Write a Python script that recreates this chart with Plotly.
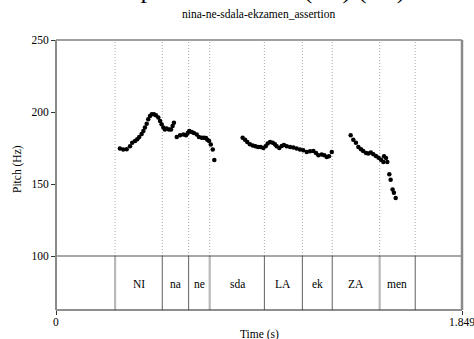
import plotly.graph_objects as go

# ---- data ----
t_pitch = [0.291, 0.306, 0.322, 0.337, 0.347, 0.360, 0.370, 0.379, 0.390, 0.398,
           0.405, 0.413, 0.420, 0.428, 0.436, 0.446, 0.455, 0.466, 0.474, 0.481,
           0.489, 0.496, 0.504, 0.515, 0.524, 0.531, 0.537,
           0.550, 0.565, 0.580, 0.592, 0.600, 0.607, 0.618, 0.628, 0.641, 0.651,
           0.664, 0.674, 0.683, 0.689, 0.697, 0.705, 0.714, 0.721,
           0.850, 0.861, 0.871, 0.883, 0.896, 0.908, 0.920, 0.932, 0.944, 0.955,
           0.964, 0.975, 0.987, 0.997, 1.005, 1.017, 1.028, 1.038, 1.051, 1.066,
           1.081, 1.096, 1.111, 1.126, 1.142, 1.157, 1.172, 1.184, 1.195, 1.210,
           1.222, 1.233, 1.243, 1.256,
           1.342, 1.354, 1.366, 1.377, 1.389, 1.399, 1.412, 1.422, 1.434, 1.445,
           1.457, 1.469, 1.480, 1.491, 1.494, 1.503, 1.509, 1.518, 1.524, 1.533,
           1.539, 1.547]
f0_hz = [174.6, 173.9, 174.1, 176.2, 178.7, 179.9, 181.0, 182.6, 184.7, 186.8,
         189.2, 191.9, 194.9, 197.2, 198.4, 198.4, 197.7, 196.1, 193.8, 191.5,
         189.2, 187.8, 188.5, 187.8, 187.8, 190.3, 192.6,
         182.6, 183.8, 184.3, 183.8, 185.4, 186.8, 186.1, 185.4, 184.3, 182.6,
         182.2, 182.2, 181.9, 180.8, 179.9, 177.4, 173.9, 166.7,
         182.2, 180.8, 179.2, 177.6, 176.7, 176.2, 175.7, 175.7, 175.0, 176.2,
         178.1, 179.2, 178.7, 177.6, 176.2, 175.0, 176.4, 177.1, 176.2, 175.7,
         175.3, 174.6, 173.9, 173.4, 172.2, 172.7, 172.9, 171.5, 169.9, 170.4,
         169.9, 168.8, 169.2, 172.2,
         183.8, 180.8, 178.7, 175.7, 174.1, 172.9, 171.5, 171.1, 171.8, 170.6,
         169.4, 168.3, 166.9, 165.3, 169.2, 168.0, 165.3, 156.7, 153.0, 146.1,
         144.0, 140.3]

boundaries = [0.269, 0.484, 0.604, 0.700, 0.949, 1.122, 1.258, 1.474, 1.636]
word_boundaries = [0.269, 0.700, 1.474]
syllables = ["", "NI", "na", "ne", "sda", "LA", "ek", "ZA", "men", ""]

t_min, t_max = 0.0, 1.849
y_ticks = [100, 150, 200, 250]
x_tick_text = ["0", "1.849"]
title_text = "Speech contours (Hz) (Hz)"
subtitle_text = "nina-ne-sdala-ekzamen_assertion"

# ---- figure ----
FONT = "Liberation Serif, serif"
y_floor, y_tier, y_top = 62.5, 100, 250
label_y = 80.5

fig = go.Figure()
fig.add_trace(go.Scatter(x=t_pitch, y=f0_hz, mode="markers",
                         marker=dict(color="black", size=4.5, line=dict(width=0)),
                         hoverinfo="skip", showlegend=False))

shapes = []
edges = [t_min] + boundaries + [t_max]
for b in boundaries:
    shapes.append(dict(type="line", xref="x", yref="y", x0=b, x1=b, y0=y_tier, y1=y_top,
                       line=dict(color="#a8a8a8", width=1, dash="1px,2px"), layer="below"))
    if b in word_boundaries:
        shapes.append(dict(type="line", xref="x", yref="y", x0=b, x1=b, y0=y_floor, y1=y_tier,
                           line=dict(color="#b8b8b8", width=2.2)))
    else:
        shapes.append(dict(type="line", xref="x", yref="y", x0=b, x1=b, y0=y_floor, y1=y_tier,
                           line=dict(color="#606060", width=1)))
# tier top line
shapes.append(dict(type="line", xref="paper", yref="y", x0=0, x1=1, y0=y_tier, y1=y_tier,
                   line=dict(color="#505050", width=1)))
# frame
shapes.append(dict(type="line", xref="paper", yref="paper", x0=0, x1=1, y0=1, y1=1,
                   line=dict(color="#404040", width=1)))
shapes.append(dict(type="line", xref="paper", yref="paper", x0=0, x1=1, y0=0, y1=0,
                   line=dict(color="#202020", width=1.2)))
shapes.append(dict(type="line", xref="paper", yref="paper", x0=0, x1=0, y0=0, y1=1,
                   line=dict(color="#8a8a8a", width=2)))
shapes.append(dict(type="line", xref="paper", yref="paper", x0=1, x1=1, y0=0, y1=1,
                   line=dict(color="#8a8a8a", width=2.5)))

annotations = []
for i, lab in enumerate(syllables):
    if lab:
        annotations.append(dict(x=(edges[i] + edges[i + 1]) / 2, y=label_y, xref="x", yref="y",
                                text=lab, showarrow=False,
                                font=dict(family=FONT, size=11.5, color="black")))
# x tick labels as annotations so the right one is not clipped
for tv, tt in zip([t_min, t_max], x_tick_text):
    annotations.append(dict(x=tv, y=0, xref="x", yref="paper", xanchor="center",
                            yanchor="top", yshift=-4, text=tt, showarrow=False,
                            font=dict(family=FONT, size=11.5, color="black")))
annotations.append(dict(x=0.1675, y=1, xref="paper", yref="paper", xanchor="left",
                        yanchor="bottom", yshift=34, text=title_text, showarrow=False,
                        font=dict(family=FONT, size=26, color="black")))
annotations.append(dict(x=0.499, y=1, xref="paper", yref="paper", xanchor="center",
                        yanchor="bottom", yshift=18, text=subtitle_text, showarrow=False,
                        font=dict(family=FONT, size=11.5, color="black")))
annotations.append(dict(x=0, y=0.5, xref="paper", yref="paper", xanchor="center",
                        yanchor="middle", xshift=-39, yshift=6, textangle=-90,
                        text="Pitch (Hz)", showarrow=False,
                        font=dict(family=FONT, size=11.5, color="black")))
annotations.append(dict(x=0.5, y=0, xref="paper", yref="paper", xanchor="center",
                        yanchor="top", yshift=-16, text="Time (s)", showarrow=False,
                        font=dict(family=FONT, size=11.5, color="black")))

fig.update_layout(
    width=474, height=339,
    margin=dict(l=56, r=12, t=40, b=29, pad=0),
    plot_bgcolor="white", paper_bgcolor="white",
    shapes=shapes, annotations=annotations,
    font=dict(family=FONT, size=11.5, color="black"),
    xaxis=dict(range=[t_min, t_max], tickvals=[t_min, t_max], showticklabels=False,
               ticks="outside", ticklen=4, tickcolor="#333", showgrid=False,
               zeroline=False, showline=False, fixedrange=True),
    yaxis=dict(range=[y_floor, y_top], tickvals=y_ticks, ticks="outside", ticklen=4,
               tickcolor="#333", showgrid=False, zeroline=False, showline=False,
               fixedrange=True, tickfont=dict(family=FONT, size=11.5)),
)

fig.write_html("out.html")
